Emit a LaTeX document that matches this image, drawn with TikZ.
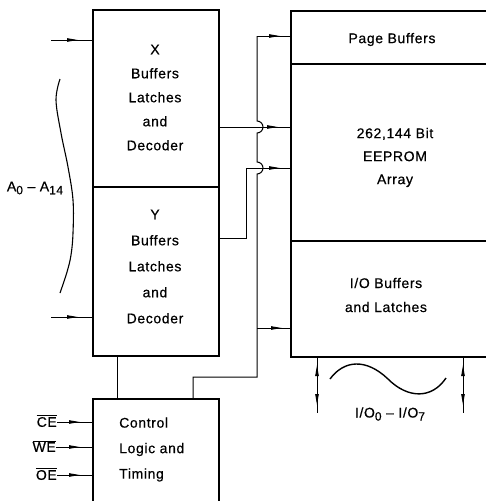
\documentclass[tikz,border=0pt]{standalone}
\usepackage{fontspec}
\setmainfont{Liberation Sans}[LetterSpace=4.5,FakeBold=0.5]
\usetikzlibrary{arrows.meta,decorations.markings,calc}
\newcommand\sbs[1]{\raisebox{-3pt}{\fontsize{12}{12}\selectfont #1}}
\begin{document}
\begin{tikzpicture}[x=1pt,y=-1pt,
  box/.style={draw,line width=2.4pt,rectangle,anchor=north west,inner sep=0pt},
  txt/.style={align=center,inner sep=0pt,font=\fontsize{14}{24}\selectfont},
  wire/.style={line width=1pt},
  marr/.style={postaction={decorate},decoration={markings,mark=at position #1 with {\arrow{Triangle[length=11pt,width=3.4pt]}}}},
  tipar/.style={line width=1pt,-{Triangle[length=11pt,width=3.4pt]}},
]
\useasboundingbox (0,0) rectangle (486,501);
\clip (0,0) rectangle (486,501);

% left boxes
\node[box,minimum width=126pt,minimum height=177pt] (X) at (92,9) {};
\node[box,minimum width=126pt,minimum height=169pt] (Y) at (92,186) {};
\node[box,minimum width=126pt,minimum height=110pt] (ctl) at (92,398) {};
% right boxes
\node[box,minimum width=200pt,minimum height=53pt] (pb) at (290,10) {};
\node[box,minimum width=200pt,minimum height=177pt] (arr) at (290,63) {};
\node[box,minimum width=200pt,minimum height=116pt] (io) at (290,240) {};

% texts
\node[txt] (Xt) at (155,97.5) {X\\Buffers\\Latches\\and\\Decoder};
\node[txt,font=\fontsize{14}{26}\selectfont] (Yt) at (155,266.5) {Y\\Buffers\\Latches\\and\\Decoder};
\node[txt,align=left,anchor=west,font=\fontsize{14}{25.5}\selectfont] (ctlt) at (119,449.5) {Control\\Logic and\\Timing};
\node[txt] (pbt) at (392,39.5) {Page Buffers};
\node[txt,font=\fontsize{14}{23}\selectfont] (arrt) at (395,157.5) {262,144 Bit\\EEPROM\\Array};
\node[txt,font=\fontsize{14}{24}\selectfont] (iot) at (386,295) {I/O Buffers\\and Latches};

% address inputs
\coordinate (ain1) at (51,40);
\coordinate (ain2) at (51,317);
\draw[wire,marr=-14pt] (ain1) -- (ain1 -| X.west);
\draw[wire,marr=-14pt] (ain2) -- (ain2 -| Y.west);
\draw[line width=1.1pt] plot[smooth,tension=0.6] coordinates {(60,79) (56,100) (61,133) (68,167) (73,200) (73,233) (71,255) (67,272) (60,293)};
\node[txt,inner sep=0pt] (alab) at (35,188) {A\sbs{0} – A\sbs{14}};

% control inputs
\node[txt,anchor=east] (ce) at (57,421) {$\overline{\hbox{CE}}$};
\node[txt,anchor=east] (we) at (56,446) {$\overline{\hbox{WE}}$};
\node[txt,anchor=east] (oe) at (57,474) {$\overline{\hbox{OE}}$};
\draw[wire,marr=-12pt] (ce.east |- 0,422) -- (ctl.west |- 0,422);
\draw[wire,marr=-12pt] (we.east |- 0,447) -- (ctl.west |- 0,447);
\draw[wire,marr=-12pt] (oe.east |- 0,475) -- (ctl.west |- 0,475);

% decoder to control
\draw[wire] (Y.south -| 117,0) -- (ctl.north -| 117,0);

% bus from control
\coordinate (c1) at (193,377);
\coordinate (b1) at (257,377);
\coordinate (b0) at (257,36);
\draw[wire] (ctl.north -| c1) -- (c1) -- (b1) -- (257,174)
  arc[start angle=90,end angle=-90,radius=6] -- (257,133)
  arc[start angle=90,end angle=-90,radius=6] -- (b0);
\draw[wire,marr=-10pt] (b0) -- (b0 -| pb.west);
\coordinate (b2) at (257,328);
\draw[wire,marr=-8pt] (b2) -- (b2 -| io.west);

% decoder outputs
\draw[wire,marr=-12pt] (X.east |- 0,127) -- (arr.west |- 0,127);
\coordinate (y1) at (246,238);
\coordinate (y2) at (246,168);
\draw[wire,marr=-10pt] (y1 -| Y.east) -- (y1) -- (y2) -- (y2 -| arr.west);

% I/O pins
\coordinate (p1) at (317,413);
\coordinate (p2) at (463,413);
\draw[wire] (io.south -| p1) -- (p1);
\draw[wire] (io.south -| p2) -- (p2);
\draw[tipar] (317,384) -- (317,365);
\draw[tipar] (317,392) -- (317,405);
\draw[tipar] (463,384) -- (463,365);
\draw[tipar] (463,392) -- (463,405);
\draw[line width=1.4pt] (330,379) .. controls (344,360) and (366,358) .. (388,379) .. controls (408,399) and (432,399) .. (446,378);
\node[txt] (iolab) at (390,414) {I/O\sbs{0} – I/O\sbs{7}};
\end{tikzpicture}
\end{document}
